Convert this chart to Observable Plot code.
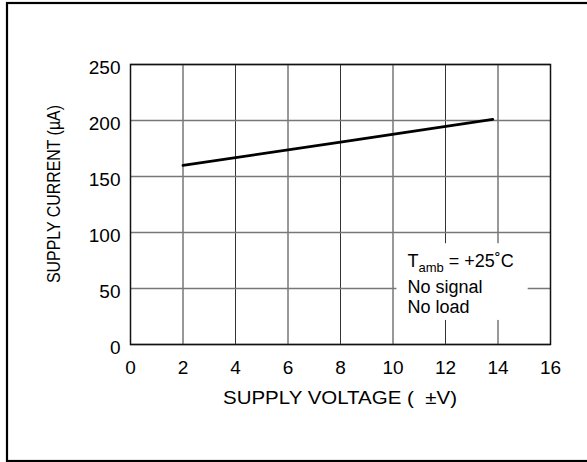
<!DOCTYPE html>
<html>
<head>
<meta charset="utf-8">
<script src="https://cdn.jsdelivr.net/npm/d3@7"></script>
<script src="https://cdn.jsdelivr.net/npm/@observablehq/plot@0.6"></script>
<style>
  html, body { margin: 0; padding: 0; background: white; overflow: hidden; }
</style>
</head>
<body>
<div id="chart"></div>
<script>
// Data
const xTicks = [0, 2, 4, 6, 8, 10, 12, 14, 16];
const yTicks = [0, 50, 100, 150, 200, 250];
const voltage = [2, 8, 13.8];      // SUPPLY VOLTAGE (±V)
const current = [160, 180.6, 201]; // SUPPLY CURRENT (µA)
const xTitle = "SUPPLY VOLTAGE (  \u00B1V)";
const yTitle = "SUPPLY CURRENT (\u00B5A)";
const noteMain = "T";
const noteSub = "amb";
const noteRest = " = +25\u02DAC";
const noteLines = ["No signal", "No load"];

const points = voltage.map((v, i) => ({v, c: current[i]}));
const font = "'Liberation Sans', Arial, Helvetica, sans-serif";

const plot = Plot.plot({
  width: 587,
  height: 462,
  marginLeft: 130,
  marginRight: 37,
  marginTop: 64,
  marginBottom: 118,
  style: {fontFamily: font, fontSize: "19px", background: "white", color: "black"},
  x: {domain: [0, 16]},
  y: {domain: [0, 250]},
  marks: [
    Plot.gridX(xTicks, {stroke: "#333", strokeOpacity: 1, strokeWidth: 1}),
    Plot.gridY(yTicks, {stroke: "#777", strokeOpacity: 1, strokeWidth: 1.5}),
    Plot.rect([{x1: 10.15, x2: 15.15, y1: 21.5, y2: 90}], {x1: "x1", x2: "x2", y1: "y1", y2: "y2", fill: "white"}),
    Plot.frame({stroke: "#111", strokeWidth: 1.5}),
    Plot.axisX(xTicks, {tickSize: 0, tickPadding: 16, fontSize: 19, label: null}),
    Plot.axisY(yTicks, {tickSize: 0, tickPadding: 10, fontSize: 19, label: null, dy: 3}),
    Plot.line(points, {x: "v", y: "c", stroke: "black", strokeWidth: 2.8})
  ]
});

document.getElementById("chart").appendChild(plot);

const svg = d3.select(plot);
const xs = plot.scale("x");
const ys = plot.scale("y");

// outer border
svg.insert("rect", ":first-child")
  .attr("x", 7).attr("y", 3).attr("width", 700).attr("height", 458)
  .attr("fill", "none").attr("stroke", "black").attr("stroke-width", 2.2);

// x axis title
const xc = (xs.apply(0) + xs.apply(16)) / 2;
svg.append("text")
  .attr("x", xc).attr("y", ys.apply(0) + 60)
  .attr("text-anchor", "middle")
  .attr("font-family", font).attr("font-size", 19)
  .attr("textLength", 234).attr("lengthAdjust", "spacingAndGlyphs")
  .style("white-space", "pre")
  .text(xTitle);

// y axis title
const yc = (ys.apply(0) + ys.apply(250)) / 2 - 10;
svg.append("text")
  .attr("transform", `translate(${60},${yc}) rotate(-90)`)
  .attr("text-anchor", "middle")
  .attr("font-family", font).attr("font-size", 18)
  .attr("textLength", 178).attr("lengthAdjust", "spacingAndGlyphs")
  .text(yTitle);

// note in the box
const nx = xs.apply(10.15) + 11;
const t = svg.append("text")
  .attr("x", nx).attr("y", 267)
  .attr("text-anchor", "start")
  .attr("font-family", font).attr("font-size", 18);
t.append("tspan").text(noteMain);
t.append("tspan").attr("font-size", 13).attr("dy", 5).text(noteSub);
t.append("tspan").attr("dy", -5).style("white-space", "pre").text(noteRest);

noteLines.forEach((s, i) => {
  svg.append("text")
    .attr("x", nx).attr("y", 293 + i * 20)
    .attr("text-anchor", "start")
    .attr("font-family", font).attr("font-size", 18)
    .text(s);
});
</script>
</body>
</html>
